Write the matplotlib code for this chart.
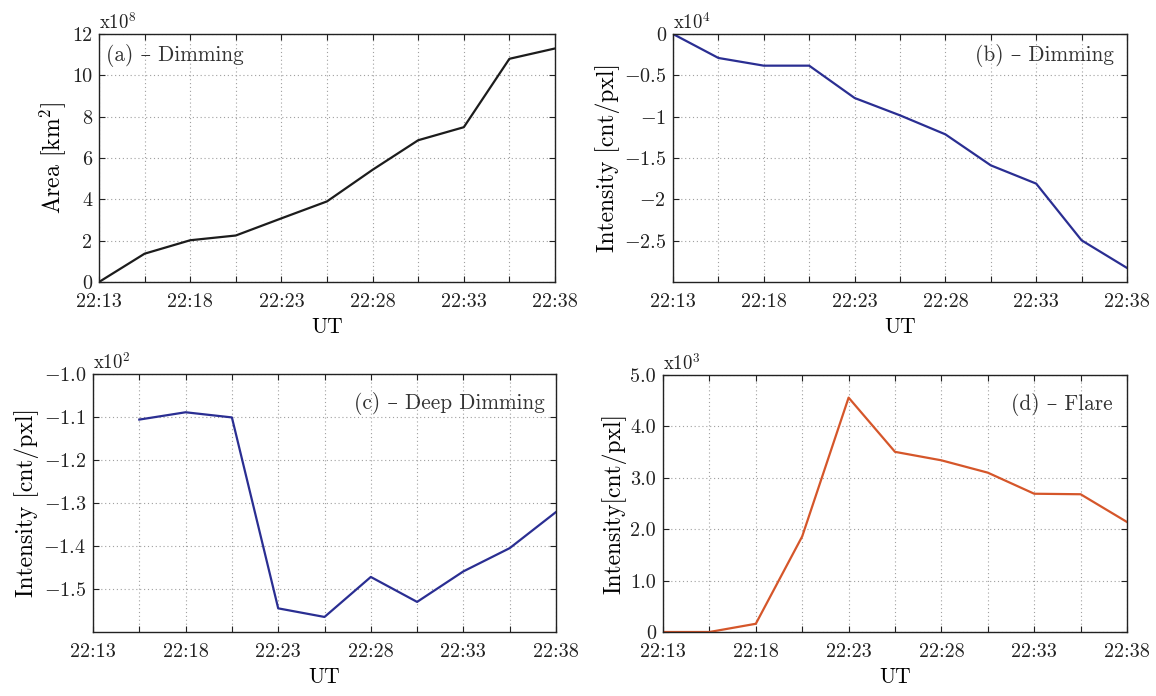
import matplotlib
matplotlib.use("Agg")
import matplotlib.pyplot as plt

plt.rcParams["font.family"] = ["cmr10", "DejaVu Serif"]
plt.rcParams["mathtext.fontset"] = "cm"
plt.rcParams["axes.formatter.use_mathtext"] = True
plt.rcParams["axes.unicode_minus"] = False

# ---------------------------------------------------------------------
# Données (minutes après 22:13)
# ---------------------------------------------------------------------
t_min = [0, 2.5, 5, 7.5, 10, 12.5, 15, 17.5, 20, 22.5, 25]
t_deep = [2.5, 5, 7.5, 10, 12.5, 15, 17.5, 20, 22.5, 25]

area_1e8 = [0, 1.37, 2.02, 2.25, 3.08, 3.90, 5.43, 6.86, 7.49, 10.8, 11.3]
dimming_1e4 = [0, -0.29, -0.383, -0.383, -0.774, -0.984, -1.214, -1.589, -1.81, -2.496, -2.83]
deep_1e2 = [-1.106, -1.089, -1.101, -1.545, -1.565, -1.472, -1.530, -1.459, -1.405, -1.321]
flare_1e3 = [0, 0, 0.16, 1.86, 4.56, 3.505, 3.34, 3.10, 2.69, 2.68, 2.14]

x_ticks = [0, 2.5, 5, 7.5, 10, 12.5, 15, 17.5, 20, 22.5, 25]
x_labels = ["22:13", "", "22:18", "", "22:23", "", "22:28", "", "22:33", "", "22:38"]

FS = 14.5
FS_LAB = 17
BLACK = "#1c1c1c"
NAVY = "#2a2e92"
ORANGE = "#d5562a"

fig = plt.figure(figsize=(11.56, 6.96), dpi=100)
W, H = 1156, 696


def make_ax(l, r, top, bot):
    return fig.add_axes([l / W, 1 - bot / H, (r - l) / W, (bot - top) / H])


def style(ax, yticks, ylabels, ylim, mult, ylabel, tag, tag_pos, tag_ha):
    ax.set_xlim(0, 25)
    ax.set_ylim(*ylim)
    ax.set_xticks(x_ticks)
    ax.set_xticklabels(x_labels)
    ax.set_yticks(yticks)
    ax.set_yticklabels(ylabels)
    ax.tick_params(direction="in", length=4, width=0.8, labelsize=FS,
                   top=True, right=True, colors="#222222")
    ax.tick_params(axis="x", pad=8)
    ax.tick_params(axis="y", pad=5)
    ax.grid(True, linestyle=(0, (1, 2.5)), color="#a0a0a0", linewidth=0.8)
    for s in ax.spines.values():
        s.set_linewidth(1.0)
        s.set_color("#222222")
    ax.set_xlabel("UT", fontsize=FS + 1, labelpad=5)
    ax.set_ylabel(ylabel, fontsize=FS_LAB, labelpad=3)
    ax.text(0.0, 1.005, mult, transform=ax.transAxes, ha="left", va="bottom",
            fontsize=FS - 1, color="#222222")
    ax.text(tag_pos[0], tag_pos[1], tag, transform=ax.transAxes, ha=tag_ha,
            va="top", fontsize=FS + 0.8, color="#333333")


# (a) -----------------------------------------------------------------
ax = make_ax(99, 555, 34, 282)
ax.plot(t_min, area_1e8, color=BLACK, lw=1.6)
style(ax, [0, 2, 4, 6, 8, 10, 12], ["0", "2", "4", "6", "8", "10", "12"],
      (0, 12), r"x10$^8$", r"Area [km$^2$]", "(a) – Dimming", (0.015, 0.96), "left")

# (b) -----------------------------------------------------------------
ax = make_ax(673, 1127, 34, 282)
ax.plot(t_min, dimming_1e4, color=NAVY, lw=1.6)
style(ax, [-2.5, -2, -1.5, -1, -0.5, 0],
      [r"$-2.5$", r"$-2$", r"$-1.5$", r"$-1$", r"$-0.5$", "0"],
      (-3, 0), r"x10$^4$", "Intensity [cnt/pxl]", "(b) – Dimming", (0.97, 0.96), "right")

# (c) -----------------------------------------------------------------
ax = make_ax(93, 556, 374, 632)
ax.plot(t_deep, deep_1e2, color=NAVY, lw=1.6)
style(ax, [-1.5, -1.4, -1.3, -1.2, -1.1, -1.0],
      [r"$-1.5$", r"$-1.4$", r"$-1.3$", r"$-1.2$", r"$-1.1$", r"$-1.0$"],
      (-1.6, -1.0), r"x10$^2$", "Intensity [cnt/pxl]", "(c) – Deep Dimming",
      (0.975, 0.93), "right")

# (d) -----------------------------------------------------------------
ax = make_ax(663, 1127, 375, 632)
ax.plot(t_min, flare_1e3, color=ORANGE, lw=1.6)
style(ax, [0, 1, 2, 3, 4, 5], ["0", "1.0", "2.0", "3.0", "4.0", "5.0"],
      (0, 5), r"x10$^3$", "Intensity[cnt/pxl]", "(d) – Flare", (0.97, 0.93), "right")

fig.savefig("out.png", dpi=100)
